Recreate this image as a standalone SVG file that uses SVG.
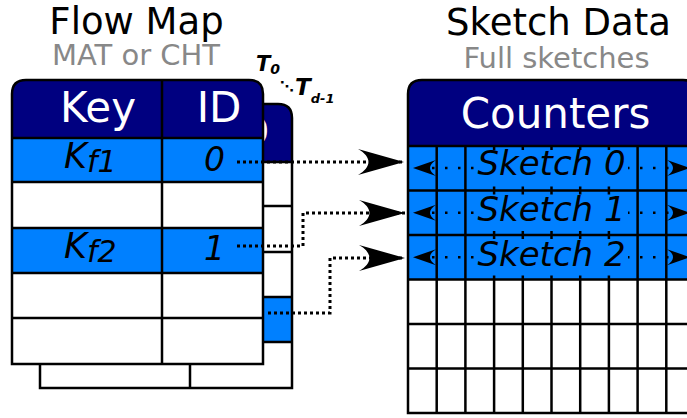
<svg xmlns="http://www.w3.org/2000/svg" width="687" height="418" viewBox="0 0 687 418">
<style>
  .title { font-family: "DejaVu Sans", Verdana, sans-serif; font-size: 37px; fill: #000; }
  .sub { font-family: "DejaVu Sans", Verdana, sans-serif; font-size: 29px; fill: #888888; }
  .hdr { font-family: "DejaVu Sans", Verdana, sans-serif; font-size: 42px; fill: #fff; }
  .it { font-family: "DejaVu Sans", Verdana, sans-serif; font-style: italic; fill: #000; }
  .tl { font-family: "DejaVu Sans", Verdana, sans-serif; font-style: italic; font-weight: bold; fill: #000; }
  .navy { fill: #000080; }
  .blue { fill: #0080ff; }
  .white { fill: #ffffff; }
  .ln { stroke: #000; stroke-width: 2.5; fill: none; }
  .conn { stroke: #000; stroke-width: 3; stroke-dasharray: 3 3; fill: none; }
  .inner { stroke: #000; stroke-width: 2.5; stroke-dasharray: 2.5 10.5; stroke-dashoffset: -6; fill: none; }
</style>
<defs>
  <marker id="big" markerUnits="userSpaceOnUse" orient="auto" viewBox="-48 -15 50 30" markerWidth="50" markerHeight="30" refX="0" refY="0">
    <path d="M0,0 L-46,-13 C-32,-5 -32,5 -46,13 Z" fill="#000"/>
  </marker>
  <marker id="small" markerUnits="userSpaceOnUse" orient="auto-start-reverse" viewBox="-26 -10 28 20" markerWidth="28" markerHeight="20" refX="0" refY="0">
    <path d="M0,0 L-23,-8 C-15,-3 -15,3 -23,8 Z" fill="#000"/>
  </marker>
</defs>
<rect width="687" height="418" fill="#fff"/>

<g id="titles">
  <text class="title" x="136.5" y="34" text-anchor="middle">Flow Map</text>
  <text class="sub" x="136" y="65" text-anchor="middle">MAT or CHT</text>
  <text class="title" x="558.5" y="35" text-anchor="middle">Sketch Data</text>
  <text class="sub" x="556.5" y="68" text-anchor="middle">Full sketches</text>
</g>

<g id="table-labels">
  <text class="tl" x="256" y="71" font-size="21">T<tspan font-size="14" dy="3">0</tspan></text>
  <text class="tl" x="280" y="91" font-size="14">⋱</text>
  <text class="tl" x="295" y="95" font-size="23">T<tspan font-size="13" dy="8">d-1</tspan></text>
</g>

<g id="table-back">
  <path class="white" d="M40,388 V118 Q40,104 54,104 H278 Q292,104 292,118 V388 Z"/>
  <path class="navy" d="M40,162 V118 Q40,104 54,104 H278 Q292,104 292,118 V162 Z"/>
  <rect class="blue" x="40" y="297" width="252" height="45"/>
  <text class="hdr" x="247" y="146" text-anchor="middle" font-size="44">ID</text>
  <path class="ln" d="M40,162 H292 M40,206 H292 M40,252 H292 M40,297 H292 M40,342 H292 M190,104 V388"/>
  <path class="ln" d="M40,388 V118 Q40,104 54,104 H278 Q292,104 292,118 V388 Z"/>
</g>

<g id="table-front">
  <path class="white" d="M12,364 V94 Q12,80 26,80 H249 Q263,80 263,94 V364 Z"/>
  <path class="navy" d="M12,138 V94 Q12,80 26,80 H249 Q263,80 263,94 V138 Z"/>
  <rect class="blue" x="12" y="138" width="251" height="44"/>
  <rect class="blue" x="12" y="228" width="251" height="45"/>
  <path class="ln" d="M12,138 H263 M12,182 H263 M12,228 H263 M12,273 H263 M12,318 H263 M162,80 V364"/>
  <path class="ln" d="M12,364 V94 Q12,80 26,80 H249 Q263,80 263,94 V364 Z"/>
  <text class="hdr" x="98" y="122" text-anchor="middle">Key</text>
  <text class="hdr" x="219" y="122" text-anchor="middle" font-size="44">ID</text>
  <text class="it" x="64" y="168" font-size="35">K<tspan font-size="30" dy="4">f1</tspan></text>
  <text class="it" x="64" y="258" font-size="35">K<tspan font-size="30" dy="4">f2</tspan></text>
  <text class="it" x="204" y="171" font-size="33">0</text>
  <text class="it" x="204" y="260" font-size="33">1</text>
</g>

<g id="sketch-data">
  <path class="white" d="M408,413 V94 Q408,80 422,80 H683 Q697,80 697,94 V413 Z"/>
  <path class="navy" d="M408,146 V94 Q408,80 422,80 H683 Q697,80 697,94 V146 Z"/>
  <rect class="blue" x="408" y="146" width="289" height="133.5"/>
  <path class="ln" d="M408,146 H697 M408,190.5 H697 M408,235 H697 M408,279.5 H697 M408,324 H697 M408,368.5 H697
    M436.7,146 V413 M465.4,146 V413 M494.1,146 V413 M522.8,146 V413 M551.5,146 V413 M580.2,146 V413 M608.9,146 V413 M637.6,146 V413 M666.3,146 V413"/>
  <path class="inner" d="M413,168 H690" marker-start="url(#small)" marker-end="url(#small)"/>
  <path class="inner" d="M413,212.7 H690" marker-start="url(#small)" marker-end="url(#small)"/>
  <path class="inner" d="M413,257.2 H690" marker-start="url(#small)" marker-end="url(#small)"/>
  <rect class="blue" x="476" y="150" width="152" height="36.5"/>
  <rect class="blue" x="476" y="194.5" width="152" height="36.5"/>
  <rect class="blue" x="476" y="239" width="152" height="36.5"/>
  <path class="ln" d="M408,413 V94 Q408,80 422,80 H683 Q697,80 697,94 V413 Z"/>
  <text class="hdr" x="555.5" y="128" text-anchor="middle" font-size="41">Counters</text>
  <text class="it" x="551.5" y="175" text-anchor="middle" font-size="34">Sketch 0</text>
  <text class="it" x="551.5" y="221" text-anchor="middle" font-size="34">Sketch 1</text>
  <text class="it" x="551.5" y="266" text-anchor="middle" font-size="34">Sketch 2</text>
</g>

<g id="connectors">
  <path class="conn" d="M237,162 H404" marker-end="url(#big)"/>
  <path class="conn" d="M237,246 H303 V213 H405" marker-end="url(#big)"/>
  <path class="conn" d="M268,313 H330 V258 H405" marker-end="url(#big)"/>
</g>
</svg>
